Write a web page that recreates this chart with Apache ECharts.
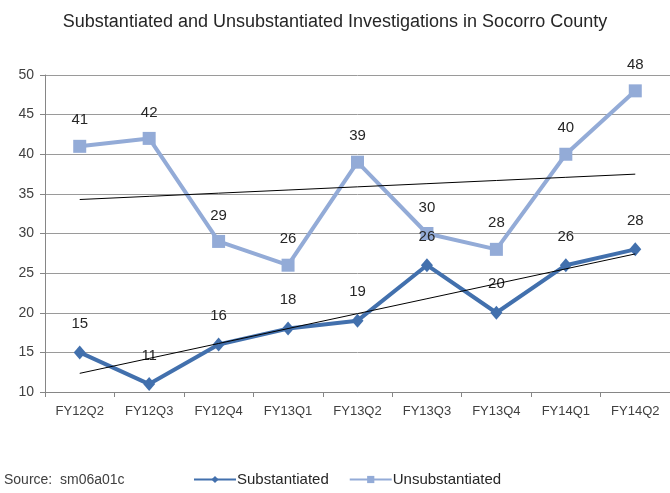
<!DOCTYPE html>
<html>
<head>
<meta charset="utf-8">
<script src="https://cdn.jsdelivr.net/npm/echarts@6/dist/echarts.min.js"></script>
<style>
html, body { margin: 0; padding: 0; background: #fff; }
#chart { width: 670px; height: 493px; }
</style>
</head>
<body>
<div id="chart"></div>
<script>
var quarters = ['FY12Q2', 'FY12Q3', 'FY12Q4', 'FY13Q1', 'FY13Q2', 'FY13Q3', 'FY13Q4', 'FY14Q1', 'FY14Q2'];
var substantiated = [15, 11, 16, 18, 19, 26, 20, 26, 28];
var unsubstantiated = [41, 42, 29, 26, 39, 30, 28, 40, 48];

// least squares trend line, same as the excel "linear trendline"
function trend(vals) {
    var n = vals.length, sx = 0, sy = 0, sxy = 0, sxx = 0;
    for (var i = 0; i < n; i++) {
        sx += i; sy += vals[i]; sxy += i * vals[i]; sxx += i * i;
    }
    var b = (n * sxy - sx * sy) / (n * sxx - sx * sx);
    var a = (sy - b * sx) / n;
    var out = [];
    for (var j = 0; j < n; j++) out.push(a + b * j);
    return out;
}

var font = 'Liberation Sans';
var darkBlue = '#4270ad';
var lightBlue = '#93abd7';

var myChart = echarts.init(document.getElementById('chart'));

var option = {
    animation: false,
    backgroundColor: '#fff',
    title: {
        text: 'Substantiated and Unsubstantiated Investigations in Socorro County',
        left: 'center',
        top: 8,
        textStyle: { fontFamily: font, fontSize: 18, fontWeight: 'normal', color: '#262626' }
    },
    graphic: [{
        type: 'text',
        left: 4,
        top: 473,
        style: { text: 'Source:  sm06a01c', font: '14px ' + font, fill: '#404040' }
    }],
    legend: {
        bottom: 1,
        left: 188,
        itemWidth: 42,
        itemHeight: 9,
        itemGap: 20,
        textStyle: { fontFamily: font, fontSize: 15, color: '#262626', padding: [0, 0, 0, -4] },
        data: ['Substantiated', 'Unsubstantiated']
    },
    grid: { left: 45, top: 75, width: 633, height: 317, containLabel: false },
    xAxis: {
        type: 'category',
        data: quarters,
        boundaryGap: true,
        axisLine: { lineStyle: { color: '#868686', width: 1 } },
        axisTick: { show: true, length: 5, lineStyle: { color: '#868686' } },
        axisLabel: { margin: 13, fontFamily: font, fontSize: 13, color: '#404040', interval: 0 }
    },
    yAxis: {
        type: 'value',
        min: 10,
        max: 50,
        interval: 5,
        axisLine: { show: true, lineStyle: { color: '#868686', width: 1 } },
        axisTick: { show: true, length: 5, lineStyle: { color: '#868686' } },
        axisLabel: { margin: 11, fontFamily: font, fontSize: 14, color: '#404040' },
        splitLine: { show: true, lineStyle: { color: '#9a9a9a', width: 1 } }
    },
    series: [{
        name: 'Substantiated',
        type: 'line',
        data: substantiated,
        symbol: 'diamond',
        symbolSize: [12, 14],
        itemStyle: { color: darkBlue },
        lineStyle: { color: darkBlue, width: 4 },
        label: { show: true, position: 'top', distance: 14, fontFamily: font, fontSize: 15, color: '#262626' },
        z: 3
    }, {
        name: 'Unsubstantiated',
        type: 'line',
        data: unsubstantiated,
        symbol: 'rect',
        symbolSize: 13,
        itemStyle: { color: lightBlue },
        lineStyle: { color: lightBlue, width: 4 },
        label: { show: true, position: 'top', distance: 12, fontFamily: font, fontSize: 15, color: '#262626' },
        z: 2
    }, {
        name: 'trendSub',
        type: 'line',
        data: trend(substantiated),
        symbol: 'none',
        silent: true,
        lineStyle: { color: '#000', width: 1 },
        z: 4
    }, {
        name: 'trendUnsub',
        type: 'line',
        data: trend(unsubstantiated),
        symbol: 'none',
        silent: true,
        lineStyle: { color: '#000', width: 1 },
        z: 4
    }]
};

myChart.setOption(option);
</script>
</body>
</html>
